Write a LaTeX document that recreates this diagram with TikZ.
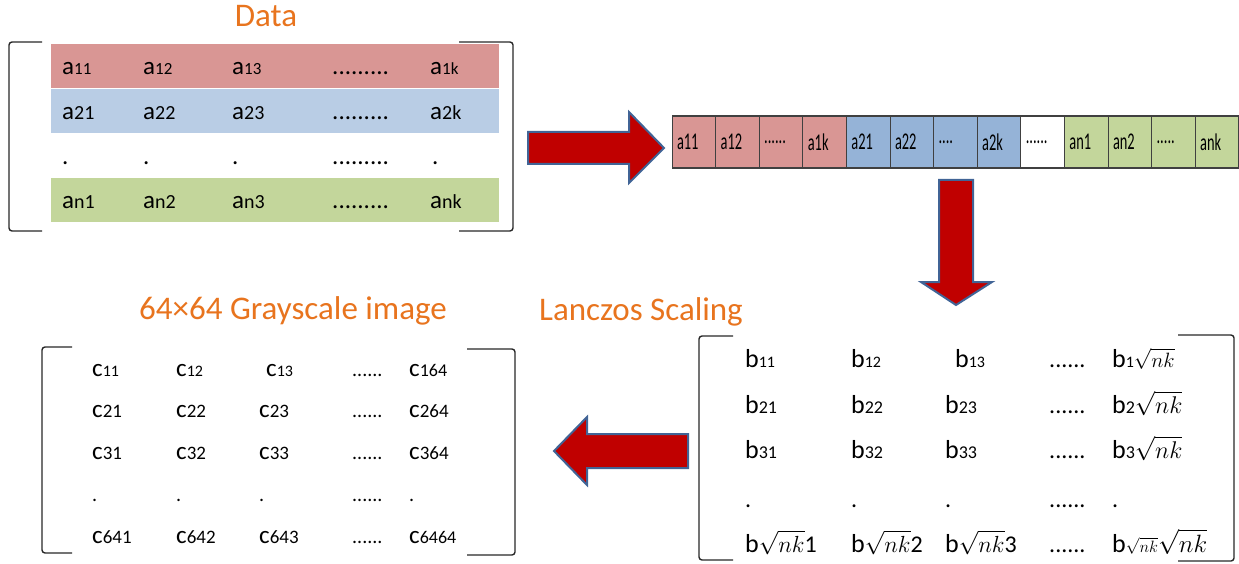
\documentclass[tikz,border=0pt]{standalone}
\usepackage{fontspec}
\setmainfont{Carlito}
\newfontfamily\stripfont[FakeStretch=0.6]{Carlito}
\usetikzlibrary{positioning}

\definecolor{bandred}{RGB}{217,150,148}
\definecolor{bandblue}{RGB}{185,205,229}
\definecolor{cellblue}{RGB}{149,179,215}
\definecolor{bandgreen}{RGB}{195,214,155}
\definecolor{titleorange}{RGB}{232,116,30}
\definecolor{arrowred}{RGB}{192,0,0}
\definecolor{arrowedge}{RGB}{65,100,150}
\definecolor{bracketgray}{RGB}{40,40,40}

% letter and index set in two sizes
\newcommand{\fs}[2]{{\fontsize{#1}{#1}\selectfont #2}}
\newcommand{\elem}[4]{\fs{#1}{#2}\fs{#3}{#4}}
% root of nk, scaled
\newcommand{\rt}[1]{\scalebox{#1}{\fs{17}{$\sqrt{nk}$}}}

\tikzset{
  title/.style={text=titleorange, font=\fontsize{33}{33}\selectfont, anchor=base, inner sep=0pt},
  entry/.style={anchor=base west, inner sep=0pt},
  bracket/.style={draw=bracketgray, line width=1.4pt, rounded corners=3pt},
  cell/.style={draw=black!75, line width=0.7pt, minimum height=52pt, inner xsep=5pt, inner ysep=0pt,
    text width=33.6pt, align=left, outer sep=0pt, font={\stripfont\fontsize{24}{24}\selectfont}},
  bigarrow/.style={fill=arrowred, draw=arrowedge, line width=2pt, line join=miter}
}

\begin{document}
\begin{tikzpicture}[x=1pt, y=-1pt]
  \useasboundingbox (0,0) rectangle (1239,564);

  % Data matrix
  \node[title] (data) at (266,27) {Data};
  \fill[bandred] (51,44) rectangle (499,88);
  \fill[bandblue] (51,89) rectangle (499,133);
  \fill[bandgreen] (51,178) rectangle (499,222);
  \draw[bracket] (42,42) -- (9,42) -- (9,231) -- (42,231);
  \draw[bracket] (459,42) -- (513,42) -- (513,231) -- (459,231);
  \node[entry] (a11) at (62,75) {\elem{25}{a}{17}{11}};
  \node[entry] (a12) at (143,75) {\elem{25}{a}{17}{12}};
  \node[entry] (a13) at (232,75) {\elem{25}{a}{17}{13}};
  \node[entry] (a14) at (332,75) {\fs{25}{.........}};
  \node[entry] (a15) at (430,75) {\elem{25}{a}{17}{1k}};
  \node[entry] (a21) at (62,120) {\elem{25}{a}{20}{21}};
  \node[entry] (a22) at (143,120) {\elem{25}{a}{20}{22}};
  \node[entry] (a23) at (232,120) {\elem{25}{a}{20}{23}};
  \node[entry] (a24) at (332,120) {\fs{25}{.........}};
  \node[entry] (a25) at (430,120) {\elem{25}{a}{20}{2k}};
  \node[entry] (a31) at (62,165) {\fs{25}{.}};
  \node[entry] (a32) at (143,165) {\fs{25}{.}};
  \node[entry] (a33) at (232,165) {\fs{25}{.}};
  \node[entry] (a34) at (332,165) {\fs{25}{.........}};
  \node[entry] (a35) at (432,165) {\fs{25}{.}};
  \node[entry] (a41) at (62,208) {\elem{25}{a}{20}{n1}};
  \node[entry] (a42) at (143,208) {\elem{25}{a}{20}{n2}};
  \node[entry] (a43) at (232,208) {\elem{25}{a}{20}{n3}};
  \node[entry] (a44) at (332,208) {\fs{25}{.........}};
  \node[entry] (a45) at (430,208) {\elem{25}{a}{20}{nk}};

  % Flattened row vector
  \node[cell, fill=bandred, anchor=north west] (s1) at (672,116) {a11};
  \node[cell, fill=bandred, right=0pt of s1] (s2) {a12};
  \node[cell, fill=bandred, right=0pt of s2] (s3) {......};
  \node[cell, fill=bandred, right=0pt of s3] (s4) {a1k};
  \node[cell, fill=cellblue, right=0pt of s4] (s5) {a21};
  \node[cell, fill=cellblue, right=0pt of s5] (s6) {a22};
  \node[cell, fill=cellblue, right=0pt of s6] (s7) {....};
  \node[cell, fill=cellblue, right=0pt of s7] (s8) {a2k};
  \node[cell, fill=white, right=0pt of s8] (s9) {......};
  \node[cell, fill=bandgreen, right=0pt of s9] (s10) {an1};
  \node[cell, fill=bandgreen, right=0pt of s10] (s11) {an2};
  \node[cell, fill=bandgreen, right=0pt of s11] (s12) {.....};
  \node[cell, fill=bandgreen, right=0pt of s12] (s13) {ank};
  \draw[black!75, line width=1.6pt] (s1.north west) -- (s13.north east);
  \draw[black!75, line width=1.6pt] (s1.south west) -- (s13.south east);

  % Block arrows
  \draw[bigarrow] (528,132) -- (629,132) -- (629,112) -- (664,148) -- (629,183) -- (629,164) -- (528,164) -- cycle;
  \draw[bigarrow] (939,180) -- (973,180) -- (973,282) -- (992,282) -- (956,305) -- (921,282) -- (939,282) -- cycle;
  \draw[bigarrow] (688,434) -- (587,434) -- (587,417) -- (554,451) -- (587,485) -- (587,468) -- (688,468) -- cycle;

  % Titles
  \node[title] (gray) at (293,319) {64×64 Grayscale image};
  \node[title] (lanczos) at (641,320) {Lanczos Scaling};

  % Scaled matrix
  \draw[bracket] (733,336) -- (699,336) -- (699,560) -- (733,560);
  \draw[bracket] (1178,335) -- (1234,335) -- (1234,561) -- (1178,561);
  \node[entry] (b11) at (745,367) {\elem{26}{b}{16}{11}};
  \node[entry] (b12) at (851,367) {\elem{26}{b}{16}{12}};
  \node[entry] (b13) at (955,367) {\elem{26}{b}{16}{13}};
  \node[entry] (b14) at (1049,367) {\fs{24}{......}};
  \node[entry] (b15) at (1112,367) {\elem{26}{b}{16}{1\rt{1.2}}};
  \node[entry] (b21) at (745,413) {\elem{26}{b}{18}{21}};
  \node[entry] (b22) at (851,413) {\elem{26}{b}{18}{22}};
  \node[entry] (b23) at (945,413) {\elem{26}{b}{18}{23}};
  \node[entry] (b24) at (1049,413) {\fs{24}{......}};
  \node[entry] (b25) at (1112,413) {\elem{26}{b}{18}{2\rt{1.4}}};
  \node[entry] (b31) at (745,458) {\elem{26}{b}{18}{31}};
  \node[entry] (b32) at (851,458) {\elem{26}{b}{18}{32}};
  \node[entry] (b33) at (945,458) {\elem{26}{b}{18}{33}};
  \node[entry] (b34) at (1049,458) {\fs{24}{......}};
  \node[entry] (b35) at (1112,458) {\elem{26}{b}{18}{3\rt{1.4}}};
  \node[entry] (b41) at (745,507) {\fs{24}{.}};
  \node[entry] (b42) at (851,507) {\fs{24}{.}};
  \node[entry] (b43) at (945,507) {\fs{24}{.}};
  \node[entry] (b44) at (1049,507) {\fs{24}{......}};
  \node[entry] (b45) at (1112,507) {\fs{24}{.}};
  \node[entry] (b51) at (745,552) {\elem{26}{b}{24}{\rt{1.35}1}};
  \node[entry] (b52) at (851,552) {\elem{26}{b}{24}{\rt{1.35}2}};
  \node[entry] (b53) at (945,552) {\elem{26}{b}{24}{\rt{1.35}3}};
  \node[entry] (b54) at (1049,552) {\fs{24}{......}};
  \node[entry] (b55) at (1112,552) {\elem{26}{b}{18}{\rt{0.95}\rt{1.45}}};

  % Grayscale image matrix
  \draw[bracket] (72,347) -- (42,347) -- (42,553) -- (72,553);
  \draw[bracket] (467,349) -- (515,349) -- (515,555) -- (467,555);
  \node[entry] (c11) at (92,376) {\elem{25}{c}{16}{11}};
  \node[entry] (c12) at (176,376) {\elem{25}{c}{16}{12}};
  \node[entry] (c13) at (266,376) {\elem{25}{c}{16}{13}};
  \node[entry] (c14) at (352,376) {\fs{20}{......}};
  \node[entry] (c15) at (409,376) {\elem{25}{c}{18}{164}};
  \node[entry] (c21) at (92,417) {\elem{25}{c}{19}{21}};
  \node[entry] (c22) at (176,417) {\elem{25}{c}{19}{22}};
  \node[entry] (c23) at (259,417) {\elem{25}{c}{19}{23}};
  \node[entry] (c24) at (352,417) {\fs{20}{......}};
  \node[entry] (c25) at (409,417) {\elem{25}{c}{19}{264}};
  \node[entry] (c31) at (92,459) {\elem{25}{c}{19}{31}};
  \node[entry] (c32) at (176,459) {\elem{25}{c}{19}{32}};
  \node[entry] (c33) at (259,459) {\elem{25}{c}{19}{33}};
  \node[entry] (c34) at (352,459) {\fs{20}{......}};
  \node[entry] (c35) at (409,459) {\elem{25}{c}{19}{364}};
  \node[entry] (c41) at (92,501) {\fs{20}{.}};
  \node[entry] (c42) at (176,501) {\fs{20}{.}};
  \node[entry] (c43) at (259,501) {\fs{20}{.}};
  \node[entry] (c44) at (352,501) {\fs{20}{......}};
  \node[entry] (c45) at (409,501) {\fs{20}{.}};
  \node[entry] (c51) at (92,543) {\elem{25}{c}{19}{641}};
  \node[entry] (c52) at (176,543) {\elem{25}{c}{19}{642}};
  \node[entry] (c53) at (259,543) {\elem{25}{c}{19}{643}};
  \node[entry] (c54) at (352,543) {\fs{20}{......}};
  \node[entry] (c55) at (409,543) {\elem{25}{c}{18}{6464}};
\end{tikzpicture}
\end{document}
